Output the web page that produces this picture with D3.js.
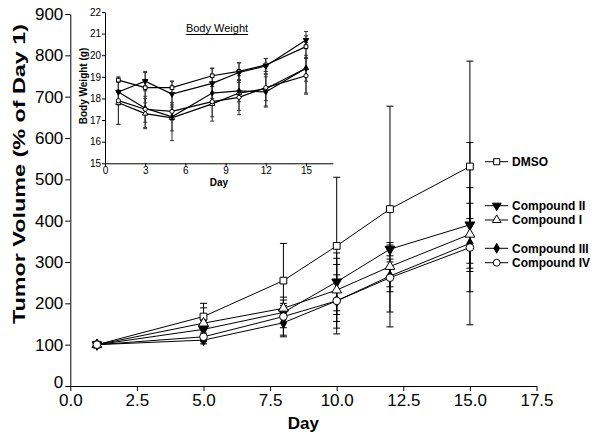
<!DOCTYPE html>
<html>
<head>
<meta charset="utf-8">
<script src="https://cdn.jsdelivr.net/npm/d3@7"></script>
<style>
body { margin:0; background:#fff; }
svg { display:block; font-family:"Liberation Sans", Arial, sans-serif; }
</style>
</head>
<body>
<div id="chart"></div>
<script>
(function(){

var width = 600,
	height = 441;

// tumor volume, % of day 1
var days = [1,5,8,10,12,15];

var dmso    = [100,168,255,339,428,531],
	dmso_hi = [100,200,345,505,677,786],
	dmso_lo = [100,136,165,173,179,277];

var c2    = [100,137,178,252,331,390],
	c2_hi = [100,158,215,322,347,589],
	c2_lo = [100,116,141,182,315,148];

var c1    = [100,152,188,232,289,367],
	c1_hi = [100,189,208,309,341,480],
	c1_lo = [100,115,168,156,240,228];

var c3    = [100,111,153,206,266,345],
	c3_hi = [100,120,200,294,307,442],
	c3_lo = [100,102,123,126,228,285];

var c4    = [100,119,168,206,262,335],
	c4_hi = [100,128,195,269,300,405],
	c4_lo = [100,108,119,140,143,297];

// body weight inset (g)
var bw_days = [1,3,5,8,10,12,15];

var bw_dmso = [18.85,18.5,18.5,19.05,19.25,19.55,20.4],
	bw_dmso_sd = [0.1,0.7,0.3,0.35,0.4,0.3,0.5];
var bw_c2 = [18.3,18.8,18.2,18.7,19.2,19.5,20.7],
	bw_c2_sd = [0.6,0.45,0.6,0.7,0.45,0.35,0.4];
var bw_c1 = [17.8,17.3,17.1,17.75,18.25,18.45,19.4],
	bw_c1_sd = [1.0,0.7,0.6,0.8,0.8,0.8,1.2];
var bw_c3 = [18.3,17.55,17.15,18.25,18.35,18.3,19.4],
	bw_c3_sd = [0.5,0.9,1.1,0.5,0.5,0.7,0.6];
var bw_c4 = [17.9,17.5,17.4,17.85,18.05,18.5,19.05],
	bw_c4_sd = [1.1,0.6,0.4,0.7,0.8,0.6,0.8];

var x_ticks = [0,2.5,5,7.5,10,12.5,15,17.5],
	y_ticks = [0,100,200,300,400,500,600,700,800,900],
	bw_x_ticks = [0,3,6,9,12,15],
	bw_y_ticks = [15,16,17,18,19,20,21,22];

var series = [
	{name:"DMSO",         v:dmso, hi:dmso_hi, lo:dmso_lo, bw:bw_dmso, sd:bw_dmso_sd, sym:d3.symbolSquare,   size:46, rot:0,   fill:"#fff", ly:161.7},
	{name:"Compound II",  v:c2,   hi:c2_hi,   lo:c2_lo,   bw:bw_c2,   sd:bw_c2_sd,   sym:d3.symbolTriangle, size:42, rot:180, fill:"#000", ly:205.7},
	{name:"Compound I",   v:c1,   hi:c1_hi,   lo:c1_lo,   bw:bw_c1,   sd:bw_c1_sd,   sym:d3.symbolTriangle, size:42, rot:0,   fill:"#fff", ly:220},
	{name:"Compound III", v:c3,   hi:c3_hi,   lo:c3_lo,   bw:bw_c3,   sd:bw_c3_sd,   sym:d3.symbolDiamond,  size:34, rot:0,   fill:"#000", ly:248.3},
	{name:"Compound IV",  v:c4,   hi:c4_hi,   lo:c4_lo,   bw:bw_c4,   sd:bw_c4_sd,   sym:d3.symbolCircle,   size:46, rot:0,   fill:"#fff", ly:262.7}
];

var X = d3.scaleLinear().domain([0,17.5]).range([70.3,536.5]);
var Y = d3.scaleLinear().domain([0,900]).range([386,14]);

var BX = d3.scaleLinear().domain([0,17]).range([105,332.8]);
var BY = d3.scaleLinear().domain([15,22]).range([163.3,12]);

var svg = d3.select("#chart").append("svg")
	.attr("width",width)
	.attr("height",height);

// main axes
var xaxis = svg.append("g")
	.attr("transform","translate(0,"+Y(0)+")")
	.call(d3.axisBottom(X).tickValues(x_ticks).tickFormat(d3.format(".1f")).tickSize(5).tickSizeOuter(0));

var yaxis = svg.append("g")
	.attr("transform","translate("+X(0)+",0)")
	.call(d3.axisLeft(Y).tickValues(y_ticks).tickSize(5).tickSizeOuter(0));

[xaxis,yaxis].forEach(function(a){
	a.selectAll("text").style("font-size","17px").style("font-family","Liberation Sans, Arial, sans-serif").attr("fill","#000");
	a.selectAll("line, path").attr("stroke","#000").attr("stroke-width",1);
})
xaxis.selectAll("text").attr("dy","0.71em").attr("y",8);
yaxis.selectAll("text").attr("x",-7);
yaxis.selectAll(".tick").filter(function(d){return d == 0}).select("text").attr("dy","0.1em");

svg.append("text")
	.attr("x",X(8.75)).attr("y",429)
	.attr("text-anchor","middle")
	.style("font-size","17px").style("font-weight","bold")
	.text("Day");

svg.append("text")
	.attr("transform","translate(25,174) rotate(-90)")
	.attr("text-anchor","middle")
	.attr("textLength",300).attr("lengthAdjust","spacingAndGlyphs")
	.style("font-size","17px").style("font-weight","bold")
	.text("Tumor Volume (% of Day 1)");

// main plot: error bars, lines, markers
var line = d3.line().x(function(d){return X(d.day)}).y(function(d){return Y(d.v)});

series.forEach(function(s){
	var pts = days.map(function(d,i){ return {day:d, v:s.v[i], hi:s.hi[i], lo:s.lo[i]} });
	var eb = svg.append("g").attr("stroke","#000").attr("stroke-width",1);
	pts.filter(function(d){return d.hi != d.lo}).forEach(function(d){
		eb.append("line").attr("x1",X(d.day)).attr("x2",X(d.day)).attr("y1",Y(d.hi)).attr("y2",Y(d.lo));
		eb.append("line").attr("x1",X(d.day)-3.5).attr("x2",X(d.day)+3.5).attr("y1",Y(d.hi)).attr("y2",Y(d.hi));
		eb.append("line").attr("x1",X(d.day)-3.5).attr("x2",X(d.day)+3.5).attr("y1",Y(d.lo)).attr("y2",Y(d.lo));
	})
	s.pts = pts;
})

series.forEach(function(s){
	svg.append("path").datum(s.pts)
		.attr("d",line)
		.attr("fill","none")
		.attr("stroke","#000")
		.attr("stroke-width",1);
})

series.forEach(function(s){
	svg.selectAll(null).data(s.pts).enter().append("path")
		.attr("d",d3.symbol().type(s.sym).size(s.size))
		.attr("transform",function(d){return "translate("+X(d.day)+","+Y(d.v)+") rotate("+s.rot+")"})
		.attr("fill",s.fill)
		.attr("stroke","#000")
		.attr("stroke-width",1);
})

// legend
var legend = svg.append("g");
series.forEach(function(s){
	legend.append("line").attr("x1",485).attr("x2",508).attr("y1",s.ly).attr("y2",s.ly)
		.attr("stroke","#000").attr("stroke-width",1);
	legend.append("path")
		.attr("d",d3.symbol().type(s.sym).size(s.size*0.8))
		.attr("transform","translate(496.7,"+s.ly+") rotate("+s.rot+")")
		.attr("fill",s.fill).attr("stroke","#000").attr("stroke-width",1);
	legend.append("text")
		.attr("x",512).attr("y",s.ly).attr("dy","0.36em")
		.style("font-size","12px").style("font-weight","bold")
		.text(s.name);
})

// inset: body weight
var inset = svg.append("g");

var bx = inset.append("g")
	.attr("transform","translate(0,"+BY(15)+")")
	.call(d3.axisBottom(BX).tickValues(bw_x_ticks).tickFormat(d3.format("d")).tickSize(3).tickSizeOuter(0));
var by = inset.append("g")
	.attr("transform","translate("+BX(0)+",0)")
	.call(d3.axisLeft(BY).tickValues(bw_y_ticks).tickFormat(d3.format("d")).tickSize(3).tickSizeOuter(0));

[bx,by].forEach(function(a){
	a.selectAll("text").style("font-size","10px").style("font-family","Liberation Sans, Arial, sans-serif").attr("fill","#000");
	a.selectAll("line, path").attr("stroke","#000").attr("stroke-width",1);
})
bx.selectAll("text").attr("y",4);
by.selectAll("text").attr("x",-4);

inset.append("text")
	.attr("x",BX(8.5)).attr("y",186)
	.attr("text-anchor","middle")
	.style("font-size","10px").style("font-weight","bold")
	.text("Day");

inset.append("text")
	.attr("transform","translate(87,86) rotate(-90)")
	.attr("text-anchor","middle")
	.style("font-size","10px").style("font-weight","bold")
	.text("Body Weight (g)");

var bwtitle = inset.append("text")
	.attr("x",217).attr("y",32)
	.attr("text-anchor","middle")
	.style("font-size","11px")
	.text("Body Weight");
var tw = bwtitle.node().getComputedTextLength();
inset.append("line")
	.attr("x1",217-tw/2).attr("x2",217+tw/2).attr("y1",34.5).attr("y2",34.5)
	.attr("stroke","#000").attr("stroke-width",1);

var bline = d3.line().x(function(d){return BX(d.day)}).y(function(d){return BY(d.v)});

series.forEach(function(s){
	s.bpts = bw_days.map(function(d,i){ return {day:d, v:s.bw[i], sd:s.sd[i]} });
	var eb = inset.append("g").attr("stroke","#333").attr("stroke-width",1);
	s.bpts.forEach(function(d){
		eb.append("line").attr("x1",BX(d.day)).attr("x2",BX(d.day)).attr("y1",BY(d.v+d.sd)).attr("y2",BY(d.v-d.sd));
		eb.append("line").attr("x1",BX(d.day)-2).attr("x2",BX(d.day)+2).attr("y1",BY(d.v+d.sd)).attr("y2",BY(d.v+d.sd));
		eb.append("line").attr("x1",BX(d.day)-2).attr("x2",BX(d.day)+2).attr("y1",BY(d.v-d.sd)).attr("y2",BY(d.v-d.sd));
	})
})

series.forEach(function(s){
	inset.append("path").datum(s.bpts)
		.attr("d",bline)
		.attr("fill","none")
		.attr("stroke","#000")
		.attr("stroke-width",1.2);
})

series.forEach(function(s){
	inset.selectAll(null).data(s.bpts).enter().append("path")
		.attr("d",d3.symbol().type(s.sym).size(s.size*0.3))
		.attr("transform",function(d){return "translate("+BX(d.day)+","+BY(d.v)+") rotate("+s.rot+")"})
		.attr("fill",s.fill)
		.attr("stroke","#000")
		.attr("stroke-width",1);
})

})()
</script>
</body>
</html>
